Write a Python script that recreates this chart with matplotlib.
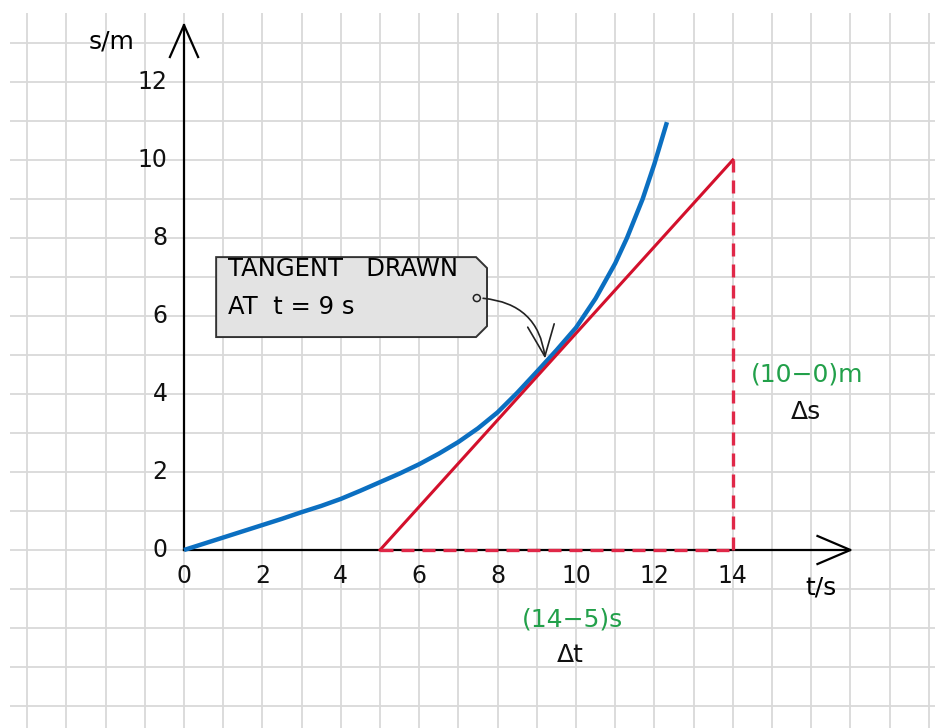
import numpy as np
import matplotlib.pyplot as plt
from matplotlib.patches import Polygon, FancyArrowPatch, Circle

# displacement-time curve
t_curve = [0, 0.5, 1, 1.5, 2, 2.5, 3, 3.5, 4, 4.5, 5, 5.5, 6, 6.5, 7, 7.5, 8, 8.5,
           9, 9.5, 10, 10.5, 11, 11.3, 11.7, 12, 12.32]
s_curve = [0, 0.16, 0.32, 0.48, 0.64, 0.8, 0.97, 1.13, 1.31, 1.52, 1.74, 1.96, 2.2,
           2.47, 2.77, 3.12, 3.53, 4.03, 4.57, 5.12, 5.7, 6.45, 7.35, 8.0, 9.0, 9.9, 10.97]

# tangent at t = 9 s
t_tan = [5, 14]
s_tan = [0, 10]

x_ticks = [0, 2, 4, 6, 8, 10, 12, 14]
y_ticks = [0, 2, 4, 6, 8, 10, 12]

BLUE = '#0b6fc1'
RED = '#d3102c'
DASH = '#e02848'
GREEN = '#22a04a'
GRID = '#d9d9d9'

plt.rcParams['font.family'] = ['DejaVu Sans']

fig = plt.figure(figsize=(9.35, 7.28), dpi=100)
ax = fig.add_axes([0, 0, 1, 1])
ax.set_xlim(-184/39.2, (935-184)/39.2)
ax.set_ylim((550-728)/39.0, 550/39.0)
ax.axis('off')

# squared paper
g_left, g_right = -4.44, 19.2
g_bot, g_top = -4.6, 13.77
ax.vlines(np.arange(-4, 20), g_bot, g_top, color=GRID, lw=1.3, zorder=0)
ax.hlines(np.arange(-4, 14), g_left, g_right, color=GRID, lw=1.3, zorder=0)

# axes with open arrow heads
ax.plot([0, 0], [0, 13.46], color='k', lw=1.6, zorder=2)
ax.plot([-0.36, 0, 0.36], [12.64, 13.46, 12.64], color='k', lw=1.6, zorder=2)
ax.plot([0, 17], [0, 0], color='k', lw=1.6, zorder=2)
ax.plot([16.16, 17, 16.16], [0.36, 0, -0.36], color='k', lw=1.6, zorder=2)

for x in x_ticks:
    ax.text(x, -0.66, str(x), ha='center', va='center', fontsize=17, color='#111111')
for y in y_ticks:
    ax.text(-0.42, y, str(y), ha='right', va='center', fontsize=17, color='#111111')

ax.text(-1.84, 13.03, 's/m', ha='center', va='center', fontsize=18)
ax.text(16.25, -0.97, 't/s', ha='center', va='center', fontsize=18)

# curve and tangent
ax.plot(t_curve, s_curve, color=BLUE, lw=3.2, solid_capstyle='butt', zorder=4)
ax.plot(t_tan, s_tan, color=RED, lw=2.2, zorder=5)
ax.plot([t_tan[0], t_tan[1]], [0, 0], color=DASH, lw=2.4, dashes=(3.9, 2.4), zorder=5)
ax.plot([t_tan[1], t_tan[1]], [0, s_tan[1]], color=DASH, lw=2.4, dashes=(3.9, 2.4), zorder=5)

# label box
x0, x1 = 0.82, 7.73
y0, y1 = 5.46, 7.51
c = 0.28
box = Polygon([(x0, y0), (x0, y1), (x1 - c, y1), (x1, y1 - c),
               (x1, y0 + c), (x1 - c, y0)], closed=True,
              facecolor='#e3e3e3', edgecolor='#333333', lw=1.4, zorder=6)
ax.add_patch(box)
ax.text(1.12, 7.2, 'TANGENT   DRAWN', ha='left', va='center', fontsize=17.5, zorder=7)
ax.text(1.12, 6.24, 'AT  t = 9 s', ha='left', va='center', fontsize=17.5, zorder=7)
ax.add_patch(Circle((7.47, 6.46), 0.09, facecolor='#e3e3e3', edgecolor='#222222', lw=1.1, zorder=8))
arr = FancyArrowPatch((7.56, 6.46), (9.22, 4.84), connectionstyle='arc3,rad=-0.42',
                      arrowstyle='->,head_length=14,head_width=6', color='#222222', lw=1.2,
                      mutation_scale=1.6, zorder=8)
ax.add_patch(arr)

# delta labels
ax.text(9.92, -1.79, '(14−5)s', ha='center', va='center', fontsize=18, color=GREEN)
ax.text(9.85, -2.69, 'Δt', ha='center', va='center', fontsize=18, color='#111111')
ax.text(15.9, 4.49, '(10−0)m', ha='center', va='center', fontsize=18, color=GREEN)
ax.text(15.87, 3.54, 'Δs', ha='center', va='center', fontsize=18, color='#111111')

fig.savefig('out.png', dpi=100)
